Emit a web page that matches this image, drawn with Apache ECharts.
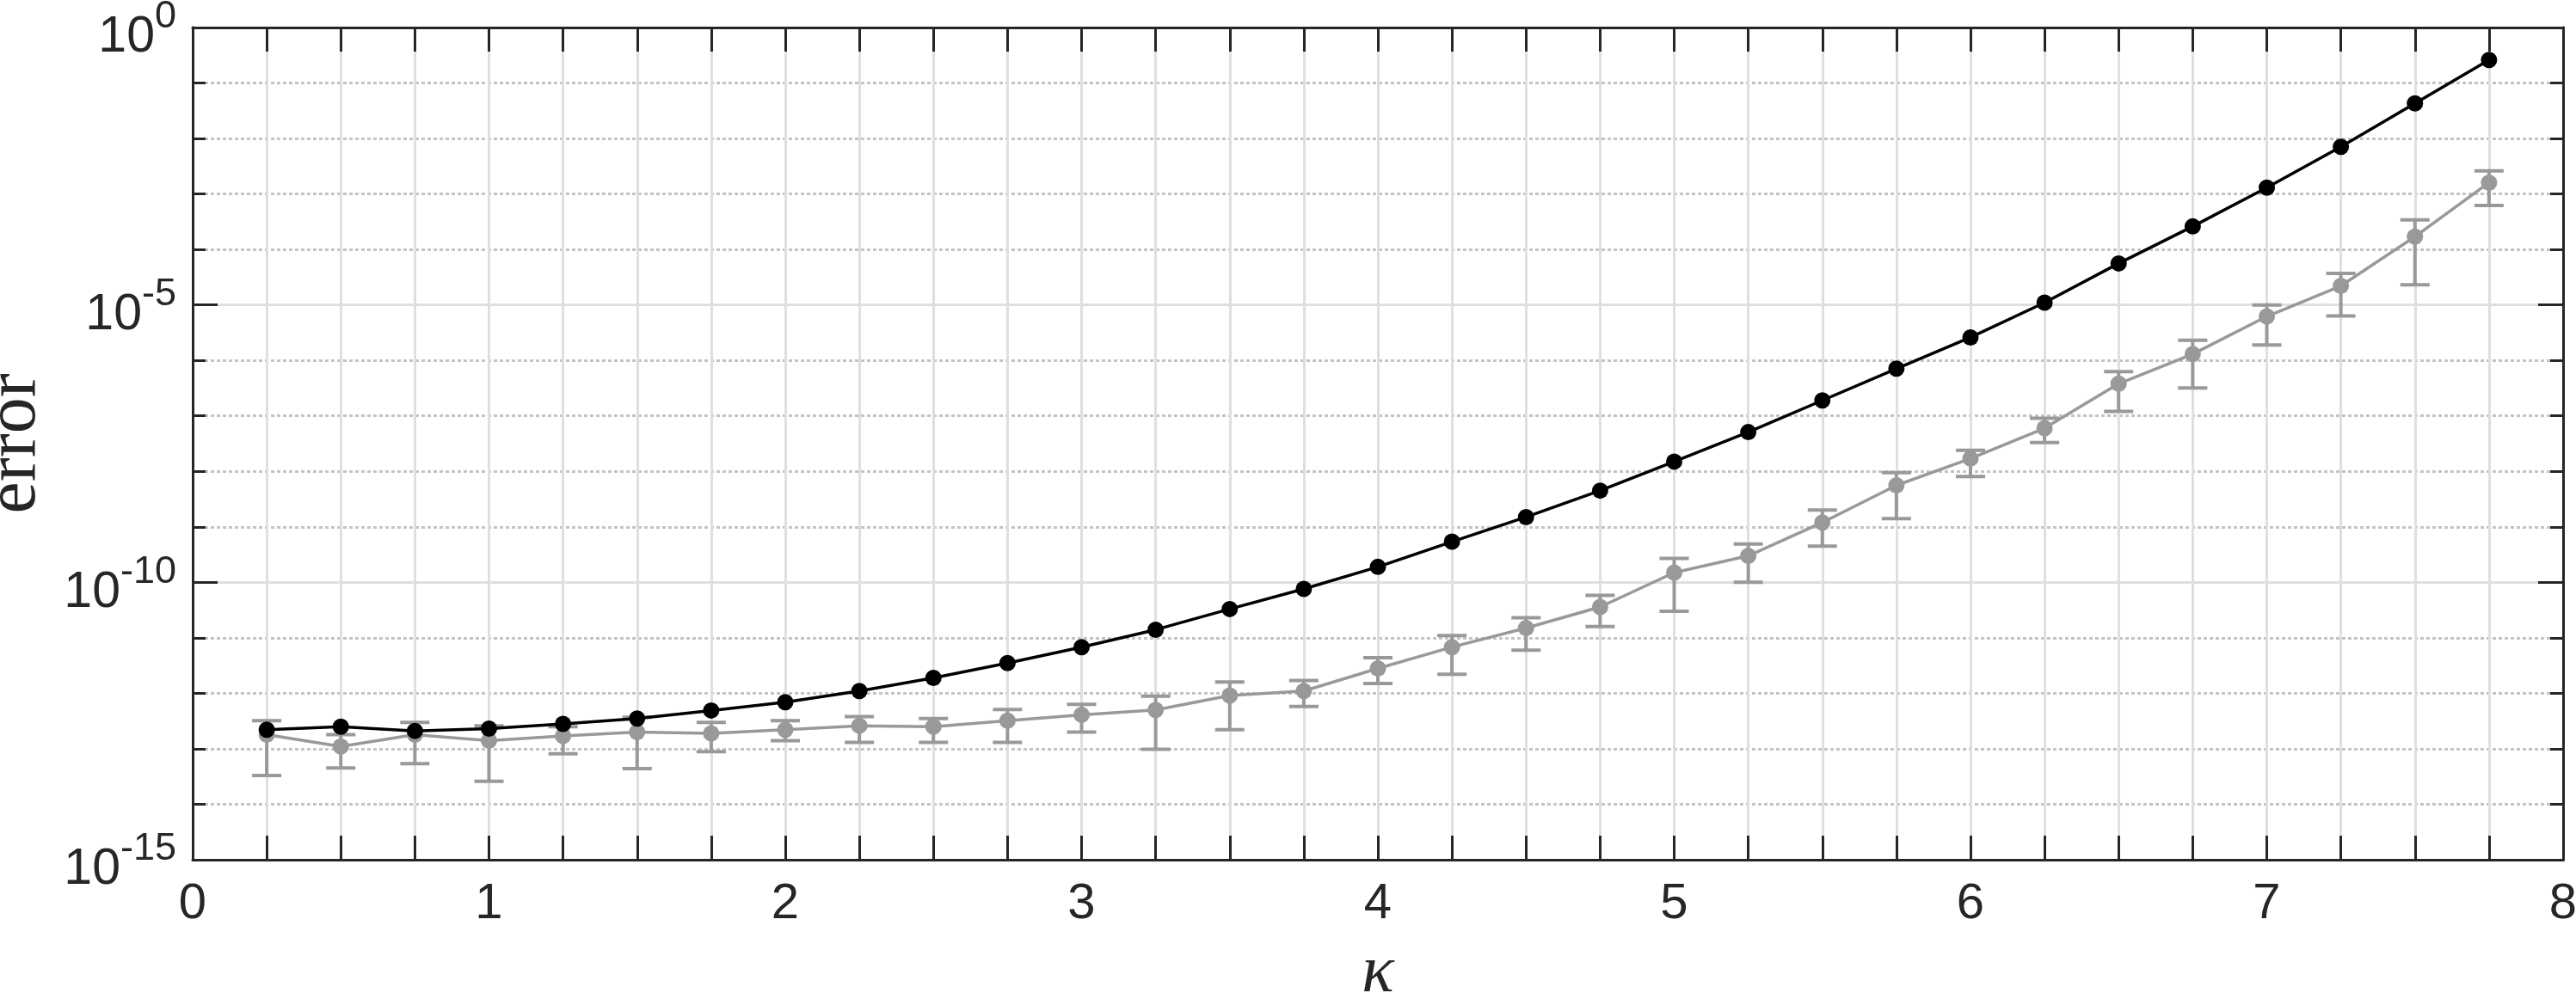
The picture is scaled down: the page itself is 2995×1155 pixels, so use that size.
<!DOCTYPE html>
<html>
<head>
<meta charset="utf-8">
<script src="https://cdn.jsdelivr.net/npm/echarts@6/dist/echarts.min.js"></script>
<style>
html,body{margin:0;padding:0;background:#fff;}
#chart{width:2995px;height:1155px;}
</style>
</head>
<body>
<div id="chart"></div>
<script>
const kappa = [0.25,0.5,0.75,1.0,1.25,1.5,1.75,2.0,2.25,2.5,2.75,3.0,3.25,3.5,3.75,4.0,4.25,4.5,4.75,5.0,5.25,5.5,5.75,6.0,6.25,6.5,6.75,7.0,7.25,7.5,7.75];
const errorBlack = [2.2e-13,2.5e-13,2.1e-13,2.3e-13,2.8e-13,3.5e-13,4.9e-13,6.9e-13,1.1e-12,1.9e-12,3.5e-12,6.8e-12,1.4e-11,3.3e-11,7.6e-11,1.9e-10,5.4e-10,1.5e-9,4.5e-9,1.5e-8,5.1e-8,1.9e-7,7.1e-7,2.6e-6,1.1e-5,5.6e-5,2.6e-4,1.3e-3,7.1e-3,4.3e-2,2.6e-1];
const errorGray = [1.8e-13,1.1e-13,1.8e-13,1.4e-13,1.7e-13,2.0e-13,1.9e-13,2.2e-13,2.6e-13,2.5e-13,3.2e-13,4.1e-13,5.0e-13,9.1e-13,1.1e-12,2.8e-12,6.8e-12,1.5e-11,3.6e-11,1.5e-10,3.0e-10,1.2e-9,5.6e-9,1.7e-8,6.0e-8,3.8e-7,1.3e-6,6.2e-6,2.2e-5,1.7e-4,1.6e-3];
const errorGrayLow = [3.3e-14,4.5e-14,5.4e-14,2.6e-14,8.1e-14,4.4e-14,8.9e-14,1.4e-13,1.3e-13,1.3e-13,1.3e-13,2.0e-13,9.8e-14,2.2e-13,5.8e-13,1.5e-12,2.2e-12,6.0e-12,1.6e-11,3.0e-11,1.0e-10,4.5e-10,1.4e-9,8.1e-9,3.3e-8,1.2e-7,3.2e-7,1.9e-6,6.3e-6,2.3e-5,6.2e-4];
const errorGrayHigh = [3.2e-13,1.8e-13,3.0e-13,2.6e-13,2.5e-13,3.7e-13,3.0e-13,3.2e-13,3.8e-13,3.5e-13,5.1e-13,6.3e-13,8.9e-13,1.6e-12,1.7e-12,4.4e-12,1.1e-11,2.3e-11,5.8e-11,2.7e-10,4.9e-10,2.0e-9,9.5e-9,2.4e-8,9.1e-8,6.3e-7,2.3e-6,1.0e-5,3.7e-5,3.4e-4,2.6e-3];
const xLabel = 'κ';
const yLabel = 'error';

const AX = '#262626';
const GRAY = '#999999';
const blackData = kappa.map((k,i)=>[k, errorBlack[i]]);
const grayData = kappa.map((k,i)=>[k, errorGray[i]]);
const barData = kappa.map((k,i)=>[k, errorGrayLow[i], errorGrayHigh[i]]);

const chart = echarts.init(document.getElementById('chart'), null, {renderer:'canvas'});

function xAxisBase(pos){
  return {
    type:'value', min:0, max:8, interval:0.25, position:pos,
    axisLine:{show:true, onZero:false, lineStyle:{color:AX, width:3}},
    axisTick:{show:true, inside:true, length:28, lineStyle:{color:AX, width:3}},
    axisLabel:{show:false},
    splitLine:{show:false}
  };
}
function yAxisBase(pos, interval, tickLen){
  return {
    type:'log', logBase:10, min:1e-15, max:1, interval:interval, position:pos,
    axisLine:{show:true, onZero:false, lineStyle:{color:AX, width:3}},
    axisTick:{show:true, inside:true, length:tickLen, lineStyle:{color:AX, width:3}},
    axisLabel:{show:false},
    splitLine:{show:false}
  };
}

const xBottom = xAxisBase('bottom');
xBottom.axisLabel = {
  show:true, margin:23, fontSize:58, fontFamily:'Liberation Sans, Arial, sans-serif', color:AX,
  formatter:function(v){ return Math.abs(v-Math.round(v))<1e-9 ? String(Math.round(v)) : ''; }
};
xBottom.splitLine = {show:true, lineStyle:{color:'#dfdfdf', width:3, type:'solid'}};
xBottom.name = xLabel;
xBottom.nameLocation = 'middle';
xBottom.nameGap = 93;
xBottom.nameTextStyle = {fontFamily:'Liberation Serif, serif', fontStyle:'italic', fontSize:78, color:AX};

const xTop = xAxisBase('top');

const yMinor = yAxisBase('left', 1, 15);
yMinor.splitLine = {show:true, lineStyle:{color:['rgba(0,0,0,0)','#c4c4c4','#c4c4c4','#c4c4c4','#c4c4c4'], width:3, type:[4,3]}};

const yMajor = yAxisBase('left', 5, 29);
yMajor.splitLine = {show:true, lineStyle:{color:'#dfdfdf', width:3, type:'solid'}};
yMajor.axisLabel = {
  show:true, margin:19, color:AX, padding:[7,0,0,0],
  formatter:function(v){ const e = Math.round(Math.log10(v)); return '{b|10}{s|' + e + '}'; },
  rich:{
    b:{fontSize:59, fontFamily:'Liberation Sans, Arial, sans-serif', color:AX, lineHeight:76, verticalAlign:'bottom'},
    s:{fontSize:45, fontFamily:'Liberation Sans, Arial, sans-serif', color:AX, lineHeight:45, verticalAlign:'top'}
  }
};
yMajor.name = yLabel;
yMajor.nameLocation = 'middle';
yMajor.nameRotate = 90;
yMajor.nameGap = 164;
yMajor.nameTextStyle = {fontFamily:'Liberation Serif, serif', fontSize:84, color:AX};

const yMinorR = yAxisBase('right', 1, 15);
const yMajorR = yAxisBase('right', 5, 29);

chart.setOption({
  animation:false,
  backgroundColor:'#ffffff',
  grid:{left:224, right:15, top:32, bottom:155, containLabel:false, outerBoundsMode:'none'},
  xAxis:[xBottom, xTop],
  yAxis:[yMinor, yMajor, yMinorR, yMajorR],
  series:[
    {
      type:'custom', name:'errbar', xAxisIndex:0, yAxisIndex:0, z:2,
      data:barData,
      encode:{x:0, y:[1,2]},
      renderItem:function(params, api){
        const x = api.value(0);
        const lo = api.coord([x, api.value(1)]);
        const hi = api.coord([x, api.value(2)]);
        const hw = 17;
        const st = {stroke:GRAY, lineWidth:4, fill:null};
        return {type:'group', children:[
          {type:'line', shape:{x1:lo[0], y1:lo[1], x2:hi[0], y2:hi[1]}, style:st},
          {type:'line', shape:{x1:lo[0]-hw, y1:lo[1], x2:lo[0]+hw, y2:lo[1]}, style:st},
          {type:'line', shape:{x1:hi[0]-hw, y1:hi[1], x2:hi[0]+hw, y2:hi[1]}, style:st}
        ]};
      }
    },
    {
      type:'line', name:'gray', xAxisIndex:0, yAxisIndex:0, z:3,
      data:grayData, symbol:'circle', symbolSize:19, showSymbol:true,
      lineStyle:{color:GRAY, width:3.5}, itemStyle:{color:GRAY, borderWidth:0}
    },
    {
      type:'line', name:'black', xAxisIndex:0, yAxisIndex:0, z:4,
      data:blackData, symbol:'circle', symbolSize:19, showSymbol:true,
      lineStyle:{color:'#000000', width:3.5}, itemStyle:{color:'#000000', borderWidth:0}
    }
  ]
});
</script>
</body>
</html>
